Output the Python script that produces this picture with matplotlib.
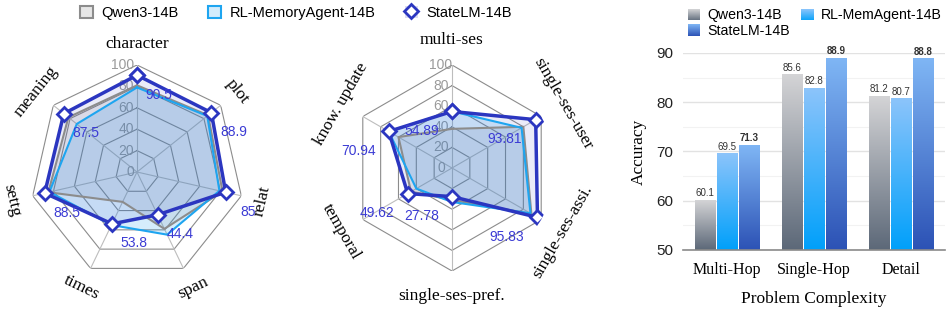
import matplotlib.pyplot as plt
import numpy as np
from matplotlib.colors import LinearSegmentedColormap, to_rgb
from matplotlib.patches import Patch, Rectangle
from matplotlib.lines import Line2D
from matplotlib.legend_handler import HandlerBase

SANS = 'Liberation Sans'
SERIF = 'Liberation Serif'

# left radar (story QA categories)
left_axes = ['character', 'plot', 'relat', 'span', 'times', 'settg', 'meaning']
left_qwen = [81, 85, 82, 59, 31, 85, 82]
left_rl = [79, 84, 79, 65, 55, 84, 72]
left_state = [90.5, 88.9, 85, 44.4, 53.8, 88.5, 87.5]

# right radar (long-memory categories)
right_axes = ['multi-ses', 'single-ses-user', 'single-ses-assi.',
              'single-ses-pref.', 'temporal', 'know. update']
right_qwen = [38, 80, 89, 31, 46, 60]
right_rl = [55, 78, 88, 33, 40, 71]
right_state = [54.89, 93.81, 95.83, 27.78, 49.62, 70.94]

radar_ticks = [0, 20, 40, 60, 80, 100]

# bar chart
bar_groups = ['Multi-Hop', 'Single-Hop', 'Detail']
bar_qwen = [60.1, 85.6, 81.2]
bar_rl = [69.5, 82.8, 80.7]
bar_state = [71.3, 88.9, 88.8]
bar_ticks = [50, 60, 70, 80, 90]

C_QWEN = '#8c8c8c'
C_RL = '#1ea5f0'
C_STATE = '#2b36c0'
C_VAL = '#3b3bd4'

fig = plt.figure(figsize=(9.47, 3.10), dpi=100)
W, H = 947, 310


def draw_radar(rect, labels, qwen, rl, state, label_r, val_off, tick_ha, tick_dx):
    ax = fig.add_axes(rect, projection='polar')
    ax.set_theta_offset(np.pi / 2)
    ax.set_theta_direction(-1)
    ax.set_ylim(0, 100)
    ax.axis('off')
    n = len(labels)
    theta = np.arange(n) * 2 * np.pi / n
    tc = np.append(theta, theta[0])

    # polygon grid
    for r in radar_ticks[1:]:
        ax.plot(tc, [r] * (n + 1), color='#8c8c8c', lw=0.8, zorder=1)
    for t in theta:
        ax.plot([t, t], [0, 100], color='#bdbdbd', lw=0.8, zorder=1)
    for r in radar_ticks:
        ax.annotate(str(r), (0, r), xytext=(tick_dx, 0), textcoords='offset points',
                    ha=tick_ha, va='center', color='#9a9a9a', fontsize=10,
                    family=SANS, zorder=1.5)

    q = np.append(qwen, qwen[0])
    m = np.append(rl, rl[0])
    s = np.append(state, state[0])
    ax.fill(tc, q, color=(0.5, 0.5, 0.5, 0.15), lw=0, zorder=2)
    ax.fill(tc, m, color=(0.12, 0.62, 0.95, 0.18), lw=0, zorder=2)
    ax.fill(tc, s, color=(0.2, 0.25, 0.75, 0.1), lw=0, zorder=2)
    ax.plot(tc, q, color=C_QWEN, lw=1.5, zorder=3)
    ax.plot(tc, m, color=C_RL, lw=1.5, zorder=3)
    ax.plot(tc, s, color=C_STATE, lw=2.5, marker='D', ms=7, mfc='white',
            mec=C_STATE, mew=2, zorder=4)

    for t, v in zip(theta, state):
        ax.annotate(f'{v:g}', (t, v), xytext=val_off, textcoords='offset points',
                    ha='center', va='center', color=C_VAL, fontsize=10,
                    family=SANS, zorder=6)

    for i, (t, lab) in enumerate(zip(theta, labels)):
        rot = (90 - i * 360 / n) - 90
        rot = (rot + 180) % 360 - 180
        if rot > 90:
            rot -= 180
        elif rot < -90:
            rot += 180
        ax.text(t, label_r, lab, rotation=rot, rotation_mode='anchor',
                ha='center', va='center', fontsize=12.5, family=SERIF)
    return ax


draw_radar([30 / W, 31 / H, 214 / W, 214 / H], left_axes, left_qwen, left_rl,
           left_state, 120, (16, -14), 'right', -2)
draw_radar([349 / W, 39 / H, 206 / W, 206 / H], right_axes, right_qwen, right_rl,
           right_state, 124, (-22, -14), 'center', -8)

h1 = Patch(facecolor='#e6e6e6', edgecolor=C_QWEN, lw=1.5)
h2 = Patch(facecolor='#d2ecfc', edgecolor=C_RL, lw=1.5)
h3 = (Patch(facecolor='#dcdcf4', edgecolor='none'),
      Line2D([], [], marker='D', ms=7, mfc='white', mec=C_STATE, mew=2, ls='none'))
fig.legend([h1, h2, h3], ['Qwen3-14B', 'RL-MemoryAgent-14B', 'StateLM-14B'],
           loc='upper center', bbox_to_anchor=(296 / W, 1.015), ncol=3, frameon=False,
           prop={'family': SANS, 'size': 10.5}, handlelength=0.9, handleheight=0.9,
           handletextpad=0.6, columnspacing=2.0, borderpad=0.2)

# ---- bar chart with gradient bars
grad_qwen = ('#d4d4d6', '#5c6878')
grad_rl = ('#8cc4fb', '#00a0fa')
grad_state = ('#7fb6f5', '#2c52b5')

ax = fig.add_axes([683 / W, 60 / H, 262 / W, 197 / H])
x = np.arange(len(bar_groups))
step, bw = 0.252, 0.23
ax.set_xlim(-0.5, 2.5)
ax.set_ylim(50, 90)
for k, (vals, grad, bold) in enumerate([(bar_qwen, grad_qwen, False),
                                        (bar_rl, grad_rl, False),
                                        (bar_state, grad_state, True)]):
    bars = ax.bar(x + (k - 1) * step, vals, bw, color='none', zorder=2)
    cmap = LinearSegmentedColormap.from_list('g', [grad[1], grad[0]])
    for b, v in zip(bars, vals):
        x0, w = b.get_x(), b.get_width()
        y0 = max(b.get_y(), 50)
        ax.imshow(np.linspace(0, 1, 256).reshape(-1, 1), extent=(x0, x0 + w, y0, v),
                  origin='lower', cmap=cmap, aspect='auto', zorder=2)
        ax.text(x0 + w / 2, v + 0.4, f'{v}', ha='center', va='bottom', fontsize=7,
                color='#333333', family=SANS, fontweight='bold' if bold else 'normal')
ax.set_xlim(-0.5, 2.5)
ax.set_ylim(50, 90)
ax.set_yticks(bar_ticks)
ax.set_yticks([55, 65, 75, 85], minor=True)
ax.grid(axis='y', which='major', color='#e2e2e2', lw=1)
ax.grid(axis='y', which='minor', color='#f2f2f2', lw=0.8)
ax.set_axisbelow(True)
ax.set_xticks(x)
ax.set_xticklabels(bar_groups, family=SERIF, fontsize=11.5)
for lab in ax.get_yticklabels():
    lab.set_family(SANS)
    lab.set_fontsize(11)
    lab.set_color('#222222')
ax.tick_params(axis='both', which='both', length=0)
ax.tick_params(axis='x', pad=9)
ax.tick_params(axis='y', pad=7)
for sp in ['top', 'right', 'left']:
    ax.spines[sp].set_visible(False)
ax.spines['bottom'].set_color('#8a8a8a')
ax.spines['bottom'].set_linewidth(1.2)
ax.set_ylabel('Accuracy', family=SERIF, fontsize=12.5, labelpad=7)
ax.set_xlabel('Problem Complexity', family=SERIF, fontsize=12.5, labelpad=9)


class GradSwatch:
    def __init__(self, top, bottom):
        self.top = top
        self.bottom = bottom


class GradHandler(HandlerBase):
    def create_artists(self, legend, orig_handle, xdescent, ydescent, width, height,
                       fontsize, trans):
        top = np.array(to_rgb(orig_handle.top))
        bot = np.array(to_rgb(orig_handle.bottom))
        n = 12
        arts = []
        for i in range(n):
            f = (i + 0.5) / n
            arts.append(Rectangle((-xdescent, -ydescent + i * height / n), width,
                                  height / n * 1.05, facecolor=bot * (1 - f) + top * f,
                                  edgecolor='none', transform=trans))
        return arts


gq, gr, gs = GradSwatch(*grad_qwen), GradSwatch(*grad_rl), GradSwatch(*grad_state)
fig.legend([gq, gs, gr], ['Qwen3-14B', 'StateLM-14B', 'RL-MemAgent-14B'],
           handler_map={GradSwatch: GradHandler()}, loc='upper left',
           bbox_to_anchor=(679 / W, 1.0), ncol=2, frameon=False,
           prop={'family': SANS, 'size': 10.2}, handlelength=0.9, handleheight=0.9,
           handletextpad=0.5, columnspacing=0.8, labelspacing=0.1, borderpad=0.1)

fig.savefig('out.png', dpi=100)
